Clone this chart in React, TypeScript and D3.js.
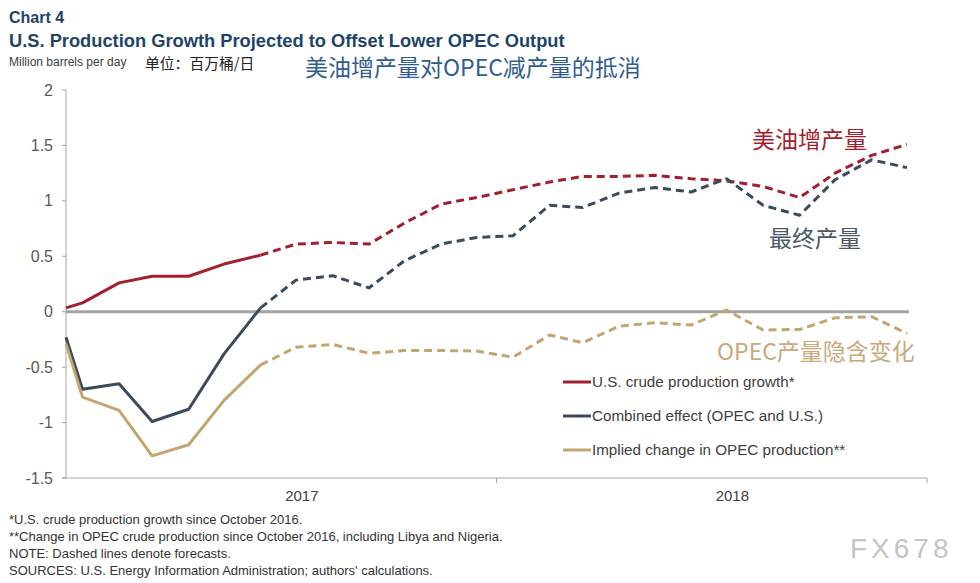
import React from "react";
import * as d3 from "d3";

const dates = [
  "2017-01-01", "2017-01-15", "2017-02-15", "2017-03-15", "2017-04-15", "2017-05-15",
  "2017-06-15", "2017-07-15", "2017-08-15", "2017-09-15", "2017-10-15", "2017-11-15",
  "2017-12-15", "2018-01-15", "2018-02-15", "2018-03-15", "2018-04-15", "2018-05-15",
  "2018-06-15", "2018-07-15", "2018-08-15", "2018-09-15", "2018-10-15", "2018-11-15",
  "2018-12-15",
];
const usGrowth = [
  0.035, 0.08, 0.26, 0.32, 0.32, 0.43, 0.51, 0.61, 0.625, 0.61, 0.8, 0.97, 1.03,
  1.1, 1.17, 1.22, 1.22, 1.23, 1.2, 1.18, 1.13, 1.03, 1.25, 1.41, 1.51,
];
const combined = [
  -0.23, -0.7, -0.65, -0.99, -0.88, -0.38, 0.035, 0.285, 0.325, 0.215, 0.46, 0.61,
  0.67, 0.685, 0.96, 0.94, 1.07, 1.12, 1.08, 1.2, 0.96, 0.87, 1.19, 1.37, 1.3,
];
const opec = [
  -0.29, -0.77, -0.89, -1.3, -1.2, -0.8, -0.48, -0.32, -0.295, -0.375, -0.35, -0.35,
  -0.355, -0.41, -0.21, -0.28, -0.13, -0.1, -0.12, 0.015, -0.165, -0.16, -0.055,
  -0.045, -0.195,
];
const lastActualIndex = 6;
const yTicks = [2, 1.5, 1, 0.5, 0, -0.5, -1, -1.5];
const yearLabels = ["2017", "2018"];
const yearLabelDates = ["2017-07-20", "2018-07-20"];
const yearBoundaries = ["2018-01-01", "2019-01-01"];
const legendLabels = [
  "U.S. crude production growth*",
  "Combined effect (OPEC and U.S.)",
  "Implied change in OPEC production**",
];
const footnotes = [
  "*U.S. crude production growth since October 2016.",
  "**Change in OPEC crude production since October 2016, including Libya and Nigeria.",
  "NOTE: Dashed lines denote forecasts.",
  "SOURCES: U.S. Energy Information Administration; authors' calculations.",
];

const RED = "#a31f2e";
const BLUE = "#3c4a5a";
const GOLD = "#c3a571";
const GOLD_TEXT = "#c9a97a";

export default function App() {
  const W = 980;
  const H = 583;
  const parse = d3.timeParse("%Y-%m-%d");
  const x = d3
    .scaleTime()
    .domain([parse("2017-01-01")!, parse("2019-01-01")!])
    .range([66, 927]);
  const y = d3.scaleLinear().domain([-1.5, 2]).range([478, 90]);
  const pts = dates.map((d) => parse(d)!);

  const line = d3
    .line<[Date, number]>()
    .x((d) => x(d[0]))
    .y((d) => y(d[1]));

  const series = [
    { values: usGrowth, color: RED },
    { values: combined, color: BLUE },
    { values: opec, color: GOLD },
  ];

  const sans = "Arial, 'Liberation Sans', Helvetica, sans-serif";
  const cjk = "'Noto Sans CJK SC', 'Noto Sans', sans-serif";

  return (
    <div style={{ position: "absolute", left: 0, top: 0, background: "#fff" }}>
      <svg width={W} height={H} style={{ display: "block" }}>
        <rect width={W} height={H} fill="#fff" />
        {/* Titles */}
        <text x={9} y={23} fontFamily={sans} fontWeight="bold" fontSize={16} fill="#1f4467">
          Chart 4
        </text>
        <text x={9} y={47} fontFamily={sans} fontWeight="bold" fontSize={18.3} fill="#1f4467">
          U.S. Production Growth Projected to Offset Lower OPEC Output
        </text>
        <text x={9} y={66} fontFamily={sans} fontSize={12} fill="#404040">
          Million barrels per day
        </text>
        <text x={145} y={69} fontFamily={cjk} fontSize={14.8} fill="#222">
          单位：百万桶/日
        </text>
        <text x={305} y={76} fontFamily={cjk} fontSize={23} fill="#2f5d8e">
          美油增产量对OPEC减产量的抵消
        </text>

        {/* Y axis */}
        <line x1={66} x2={66} y1={y(2)} y2={y(-1.5)} stroke="#a6a6a6" strokeWidth={1} />
        {yTicks.map((t) => (
          <g key={t}>
            <line x1={62} x2={66} y1={y(t)} y2={y(t)} stroke="#a6a6a6" />
            <text
              x={53}
              y={y(t)}
              dy="0.35em"
              textAnchor="end"
              fontFamily={sans}
              fontSize={16}
              fill="#595959"
            >
              {t}
            </text>
          </g>
        ))}

        {/* X axis */}
        <line x1={62} x2={927} y1={y(-1.5)} y2={y(-1.5)} stroke="#a6a6a6" />
        {yearBoundaries.map((d) => (
          <line
            key={d}
            x1={x(parse(d)!)}
            x2={x(parse(d)!)}
            y1={y(-1.5)}
            y2={y(-1.5) + 5}
            stroke="#a6a6a6"
          />
        ))}
        {yearLabels.map((l, i) => (
          <text
            key={l}
            x={x(parse(yearLabelDates[i])!)}
            y={501}
            textAnchor="middle"
            fontFamily={sans}
            fontSize={15}
            fill="#404040"
          >
            {l}
          </text>
        ))}

        {/* Zero line */}
        <line
          x1={66}
          x2={x(pts[pts.length - 1]) + 2}
          y1={y(0)}
          y2={y(0)}
          stroke="#a3a3a3"
          strokeWidth={3}
        />

        {/* Series */}
        {series.map((s, i) => {
          const data = pts.map((p, j) => [p, s.values[j]] as [Date, number]);
          const actual = data.slice(0, lastActualIndex + 1);
          const forecast = data.slice(lastActualIndex);
          return (
            <g key={i}>
              <path d={line(actual)!} fill="none" stroke={s.color} strokeWidth={3} strokeLinejoin="round" />
              <path
                d={line(forecast)!}
                fill="none"
                stroke={s.color}
                strokeWidth={3}
                strokeDasharray="8,5"
                strokeLinejoin="round"
              />
            </g>
          );
        })}

        {/* Chinese annotations */}
        <text x={752} y={148} fontFamily={cjk} fontSize={23} fill={RED}>
          美油增产量
        </text>
        <text x={769} y={247} fontFamily={cjk} fontSize={23} fill="#4a5868">
          最终产量
        </text>
        <text x={717} y={360} fontFamily={cjk} fontSize={23} fill={GOLD_TEXT}>
          OPEC产量隐含变化
        </text>

        {/* Legend */}
        {legendLabels.map((l, i) => (
          <g key={l} transform={`translate(563, ${382 + i * 34})`}>
            <line x1={0} x2={28} y1={0} y2={0} stroke={series[i].color} strokeWidth={3} />
            <text x={29} y={0} dy="0.35em" fontFamily={sans} fontSize={15.2} fill="#404040">
              {l}
            </text>
          </g>
        ))}

        {/* Footnotes */}
        {footnotes.map((f, i) => (
          <text key={i} x={9} y={524 + i * 17} fontFamily={sans} fontSize={13} fill="#333">
            {f}
          </text>
        ))}

        {/* Watermark */}
        <text
          x={850}
          y={558}
          fontFamily={sans}
          fontSize={28}
          fill="#c4c4c4"
          letterSpacing={4}
        >
          FX678
        </text>
      </svg>
    </div>
  );
}
